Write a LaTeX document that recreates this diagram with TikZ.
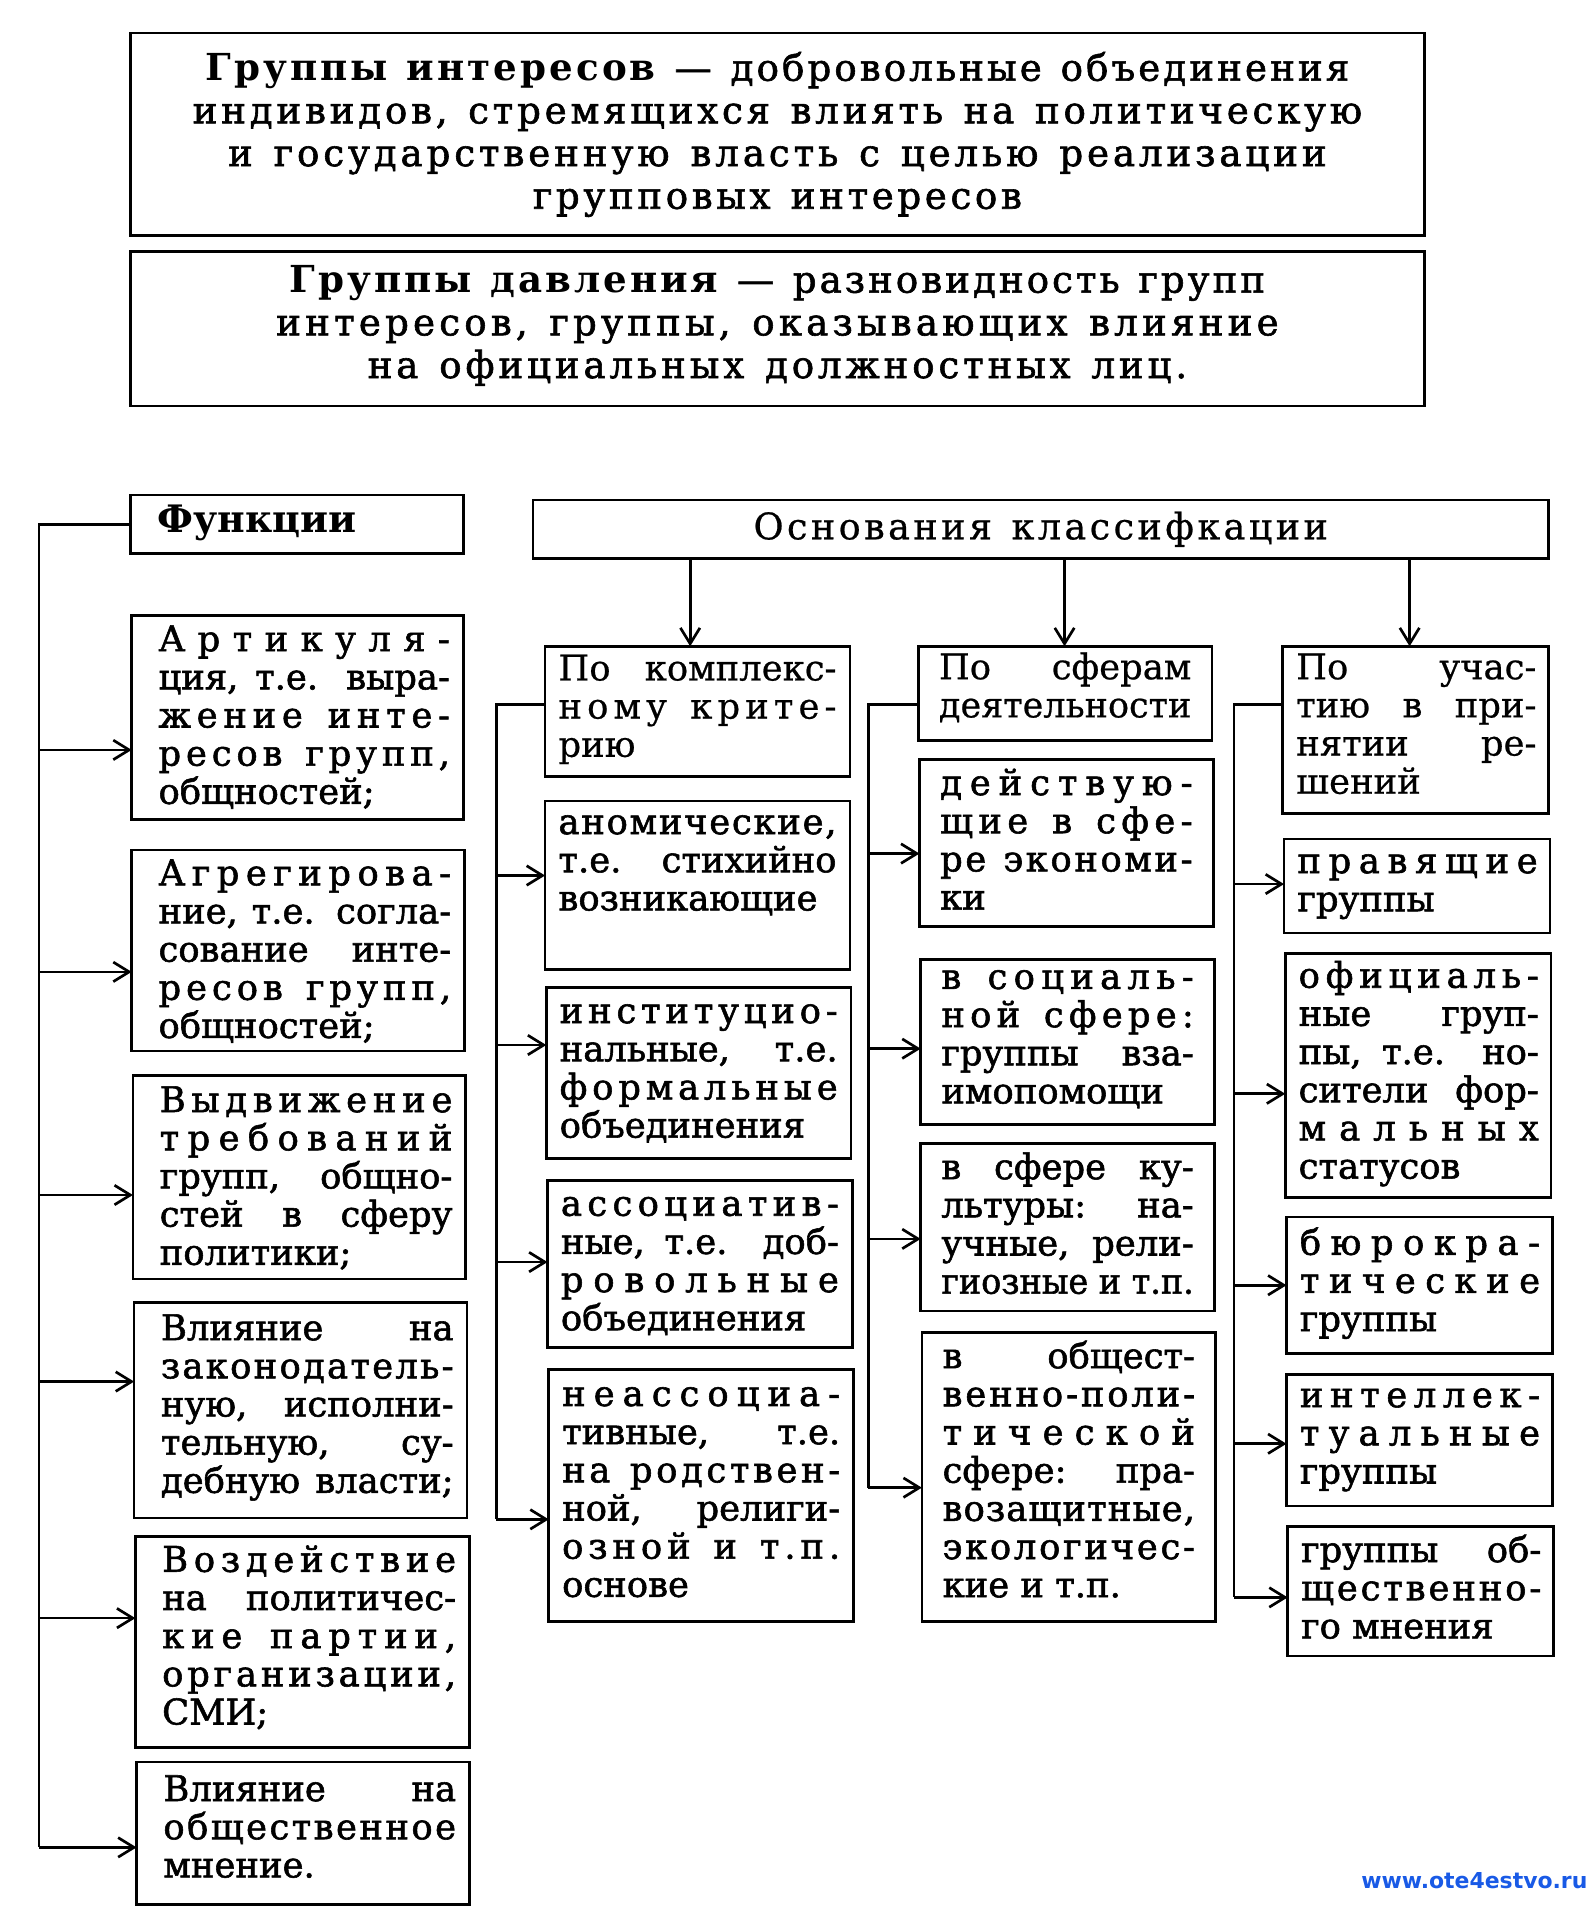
\documentclass[tikz,border=0pt]{standalone}
\usepackage{fontspec}
\setmainfont{DejaVu Serif}
\newfontfamily\bodyf{DejaVu Serif}[RawFeature={embolden=1.6}]
\newfontfamily\hdrf{DejaVu Serif}[RawFeature={embolden=0.6}]
\newfontfamily\wmf{DejaVu Sans}
\usetikzlibrary{arrows.meta}
\definecolor{wmblue}{RGB}{25,90,230}
\newdimen\bw
\newdimen\sht \sht=22.5pt
\newdimen\sdp \sdp=7.5pt
\ExplSyntaxOn
\box_new:N \l_rs_box
\seq_new:N \l_rs_seq
\bool_new:N \l_rs_first_bool
\bool_new:N \l_rs_firstw_bool
\cs_new_protected:Npn \rs_strut: { \vrule height \sht depth \sdp width 0pt \relax }
\cs_new_protected:Npn \rs_fit:nnn #1#2#3
 {
  \hbox_set:Nn \l_rs_box {#3}
  \dim_compare:nNnTF { \box_wd:N \l_rs_box } > {#1}
   {
    \box_scale:Nnn \l_rs_box
      { \fp_eval:n { \dim_to_fp:n {#1} / \dim_to_fp:n { \box_wd:N \l_rs_box } } } {1}
    \hbox_to_wd:nn {#1} { \rs_strut: \box_use_drop:N \l_rs_box \hss }
   }
   {
    \str_if_eq:nnTF {#2} {s}
     { \hbox_to_wd:nn {#1} { \rs_strut: #3 } }
     { \hbox_to_wd:nn {#1} { \rs_strut: #3 \hfil } }
   }
 }
\cs_new_protected:Npn \rs_word:n #1
 {
  \bool_set_true:N \l_rs_first_bool
  \tl_map_inline:nn {#1}
   {
    \bool_if:NF \l_rs_first_bool { \hskip 0pt plus 1fil \relax }
    \bool_set_false:N \l_rs_first_bool
    ##1
   }
 }
\NewDocumentCommand \spr { m }
 {
  \seq_set_split:Nnn \l_rs_seq { ~ } {#1}
  \bool_set_true:N \l_rs_firstw_bool
  \seq_map_inline:Nn \l_rs_seq
   {
    \bool_if:NF \l_rs_firstw_bool { \hskip 0.3em plus 2.5fil \relax }
    \bool_set_false:N \l_rs_firstw_bool
    \rs_word:n {##1}
   }
 }
\NewDocumentCommand \JL { m } { \rs_fit:nnn {\bw} {s} {#1} }
\NewDocumentCommand \SL { m } { \rs_fit:nnn {\bw} {s} { \spr {#1} } }
\NewDocumentCommand \LL { m } { \rs_fit:nnn {\bw} {l} {#1} }
\NewDocumentCommand \CL { m m } { \hbox_to_wd:nn {\bw} { \hss \rs_fit:nnn {#1pt} {s} {#2} \hss } }
\ExplSyntaxOff
\newcommand\wsp{\hskip 0.3em plus 2.5fil\relax}
% #1 box width, #2 box height, #3 left pad, #4 text width, #5 first baseline offset, #6 lines
\newcommand\cell[6]{\vbox to #2pt{\bw=#4pt\relax\kern\dimexpr #5pt-\sht\relax
  \hbox to #1pt{\hskip #3pt\vbox{#6}\hss}\vfil}}
\begin{document}
\begin{tikzpicture}[x=1pt,y=-1pt,
  ln/.style={line width=2.2pt},
  arr/.style={line width=2.2pt,-{Straight Barb[length=13pt,width=16pt]}},
  bxs/.style={draw,line width=2.2pt,inner sep=0pt,outer sep=0pt,anchor=north west,
              font=\bodyf\fontsize{29}{31.3}\selectfont},
  hdr/.style={bxs,font=\hdrf\fontsize{29}{31.3}\selectfont}]
\useasboundingbox (0,0) rectangle (1307,1568);

% top definitions
\node[bxs,font=\bodyf\fontsize{30.5}{35}\selectfont] (gi) at (107,27) {\cell{1061}{166}{0}{1061}{38}{%
  \CL{938}{{\rmfamily\bfseries\spr{Группы интересов}}\wsp\spr{— добровольные объединения}}%
  \CL{959}{\spr{индивидов, стремящихся влиять на политическую}}%
  \CL{901}{\spr{и государственную власть с целью реализации}}%
  \CL{401}{\spr{групповых интересов}}}};
\node[bxs,font=\bodyf\fontsize{30.5}{35}\selectfont] (gd) at (107,206) {\cell{1061}{127}{0}{1061}{34}{%
  \CL{800}{{\rmfamily\bfseries\spr{Группы давления}}\wsp\spr{— разновидность групп}}%
  \CL{822}{\spr{интересов, группы, оказывающих влияние}}%
  \CL{672}{\spr{на официальных должностных лиц.}}}};

% headers
\node[bxs,font=\rmfamily\bfseries\fontsize{31}{31}\selectfont] (fun) at (107,406) {\cell{273}{48}{22}{240}{31}{\LL{Функции}}};
\node[hdr,font=\hdrf\fontsize{30}{31}\selectfont] (osn) at (437,410) {\cell{833}{48}{0}{833}{32}{\CL{471}{\spr{Основания классифкации}}}};

% functions column
\node[bxs] (a1) at (108,505) {\cell{272}{167}{22}{239}{29}{\SL{Артикуля-}\JL{ция, т.е. выра-}\SL{жение инте-}\SL{ресов групп,}\LL{общностей;}}};
\node[bxs] (a2) at (108,697) {\cell{273}{165}{22}{240}{29}{\SL{Агрегирова-}\JL{ние, т.е. согла-}\JL{сование инте-}\SL{ресов групп,}\LL{общностей;}}};
\node[bxs] (a3) at (109,882) {\cell{273}{167}{22}{240}{30}{\SL{Выдвижение}\SL{требований}\JL{групп, общно-}\JL{стей в сферу}\LL{политики;}}};
\node[bxs] (a4) at (110,1068) {\cell{273}{177}{22}{240}{31}{\JL{Влияние на}\SL{законодатель-}\JL{ную, исполни-}\JL{тельную, су-}\JL{дебную власти;}}};
\node[bxs] (a5) at (111,1260) {\cell{274}{173}{22}{241}{29}{\SL{Воздействие}\JL{на политичес-}\SL{кие партии,}\SL{организации,}\LL{СМИ;}}};
\node[bxs] (a6) at (112,1445) {\cell{273}{117}{22}{240}{32}{\JL{Влияние на}\SL{общественное}\LL{мнение.}}};

% complex criterion column
\node[hdr] (h2) at (447,530) {\cell{250}{107}{11}{228}{28}{\JL{По комплекс-}\SL{ному крите-}\LL{рию}}};
\node[bxs] (b1) at (447,657) {\cell{250}{138}{11}{228}{27}{\SL{аномические,}\JL{т.е. стихийно}\LL{возникающие}}};
\node[bxs] (b2) at (448,810) {\cell{250}{140}{11}{228}{29}{\SL{институцио-}\JL{нальные, т.е.}\SL{формальные}\LL{объединения}}};
\node[bxs] (b3) at (449,968) {\cell{250}{137}{11}{228}{29}{\SL{ассоциатив-}\JL{ные, т.е. доб-}\SL{ровольные}\LL{объединения}}};
\node[bxs] (b4) at (450,1123) {\cell{250}{207}{11}{228}{30}{\SL{неассоциа-}\JL{тивные, т.е.}\SL{на родствен-}\JL{ной, религи-}\SL{озной и т.п.}\LL{основе}}};

% spheres column
\node[hdr] (h3) at (753,530) {\cell{241}{77}{17}{207}{27}{\JL{По сферам}\SL{деятельности}}};
\node[bxs] (c1) at (754,623) {\cell{241}{137}{17}{207}{29}{\SL{действую-}\SL{щие в сфе-}\SL{ре экономи-}\LL{ки}}};
\node[bxs] (c2) at (755,787) {\cell{241}{135}{17}{207}{24}{\SL{в социаль-}\SL{ной сфере:}\JL{группы вза-}\LL{имопомощи}}};
\node[bxs] (c3) at (755,938) {\cell{241}{137}{17}{207}{29}{\JL{в сфере ку-}\JL{льтуры: на-}\JL{учные, рели-}\JL{гиозные и т.п.}}};
\node[bxs] (c4) at (756,1093) {\cell{241}{237}{17}{207}{29}{\JL{в общест-}\SL{венно-поли-}\SL{тической}\JL{сфере: пра-}\SL{возащитные,}\SL{экологичес-}\LL{кие и т.п.}}};

% participation column
\node[hdr] (h4) at (1052,530) {\cell{218}{137}{11}{197}{27}{\JL{По учас-}\JL{тию в при-}\JL{нятии ре-}\LL{шений}}};
\node[bxs] (d1) at (1053,688) {\cell{218}{77}{11}{197}{28}{\SL{правящие}\LL{группы}}};
\node[bxs] (d2) at (1054,782) {\cell{218}{200}{11}{197}{28}{\SL{официаль-}\JL{ные груп-}\JL{пы, т.е. но-}\JL{сители фор-}\SL{мальных}\LL{статусов}}};
\node[bxs] (d3) at (1055,998) {\cell{218}{112}{11}{197}{31}{\SL{бюрокра-}\SL{тические}\LL{группы}}};
\node[bxs] (d4) at (1055,1127) {\cell{218}{108}{11}{197}{27}{\SL{интеллек-}\SL{туальные}\LL{группы}}};
\node[bxs] (d5) at (1056,1252) {\cell{218}{106}{11}{197}{29}{\JL{группы об-}\SL{щественно-}\LL{го мнения}}};

% connectors: functions
\coordinate (l6) at (32,1515);
\draw[ln] (fun.west) -| (l6);
\foreach \n/\yy in {a1/615,a2/797,a3/980,a4/1133,a5/1327,a6/1515}{
  \coordinate (lp) at (32,\yy);
  \draw[arr] (lp) -- (\n.west |- lp);
}
% top arrows
\foreach \n/\xx in {h2/566,h3/873,h4/1156}{
  \coordinate (tp) at (\xx,0);
  \draw[arr] (osn.south -| tp) -- (\n.north -| tp);
}
% column brackets
\coordinate (j2) at (407,578); \coordinate (e2) at (407,1246);
\draw[ln] (h2.west |- j2) -- (j2) -- (e2);
\foreach \n/\yy in {b1/718,b2/857,b3/1035,b4/1246}{
  \coordinate (bp) at (407,\yy);
  \draw[arr] (bp) -- (\n.west |- bp);
}
\coordinate (j3) at (712,578); \coordinate (e3) at (712,1220);
\draw[ln] (h3.west |- j3) -- (j3) -- (e3);
\foreach \n/\yy in {c1/700,c2/860,c3/1016,c4/1220}{
  \coordinate (cp) at (712,\yy);
  \draw[arr] (cp) -- (\n.west |- cp);
}
\coordinate (j4) at (1012,578); \coordinate (e4) at (1012,1310);
\draw[ln] (h4.west |- j4) -- (j4) -- (e4);
\foreach \n/\yy in {d1/725,d2/897,d3/1054,d4/1184,d5/1310}{
  \coordinate (dp) at (1012,\yy);
  \draw[arr] (dp) -- (\n.west |- dp);
}

% watermark
\node[font=\wmf\bfseries\fontsize{18}{20}\selectfont,text=wmblue,anchor=east,inner sep=0pt] (wm) at (1302,1542) {www.ote4estvo.ru};
\end{tikzpicture}
\end{document}
